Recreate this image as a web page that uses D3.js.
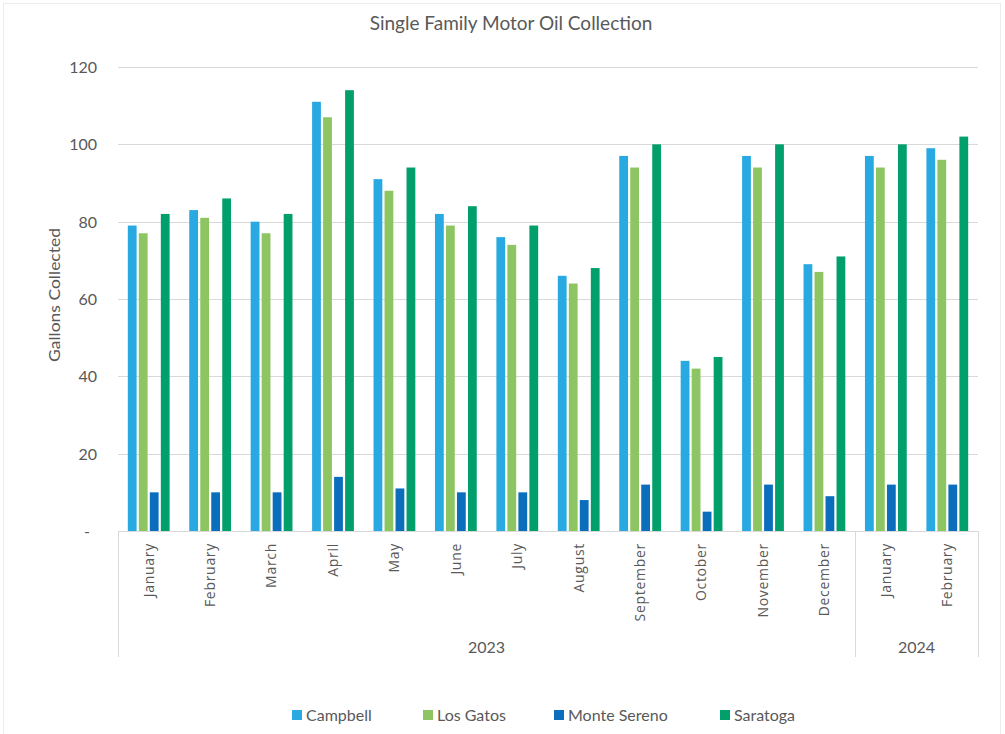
<!DOCTYPE html>
<html>
<head>
<meta charset="utf-8">
<script src="https://cdn.jsdelivr.net/npm/d3@7/dist/d3.min.js"></script>
<style>
  html, body { margin: 0; padding: 0; background: #ffffff; }
  svg { display: block; }
</style>
</head>
<body>
<svg id="chart" width="1005" height="734"></svg>
<script>
// Monthly gallons of motor oil collected from single-family homes
const months = ["January", "February", "March", "April", "May", "June", "July",
                "August", "September", "October", "November", "December",
                "January", "February"];
const monthYears = ["2023", "2023", "2023", "2023", "2023", "2023", "2023",
                    "2023", "2023", "2023", "2023", "2023", "2024", "2024"];
const years = ["2023", "2024"];

const seriesNames = ["Campbell", "Los Gatos", "Monte Sereno", "Saratoga"];
const campbell    = [79, 83, 80, 111, 91, 82, 76, 66, 97, 44, 97, 69, 97, 99];
const losGatos    = [77, 81, 77, 107, 88, 79, 74, 64, 94, 42, 94, 67, 94, 96];
const monteSereno = [10, 10, 10, 14, 11, 10, 10, 8, 12, 5, 12, 9, 12, 12];
const saratoga    = [82, 86, 82, 114, 94, 84, 79, 68, 100, 45, 100, 71, 100, 102];
const yTicks = [0, 20, 40, 60, 80, 100, 120];

const seriesValues = [campbell, losGatos, monteSereno, saratoga];
const colors = ["#29a9e1", "#8dc563", "#0a6ebd", "#009f6b"];

const textColor = "#595959";
const gridColor = "#d9d9d9";

const svg = d3.select("#chart");

// faint chart-area frame
svg.append("rect")
  .attr("x", 3.5).attr("y", 3.5)
  .attr("width", 997).attr("height", 740)
  .attr("fill", "none").attr("stroke", "#ececec");

const plotLeft = 118, plotRight = 978, plotTop = 67, plotBottom = 531;

const x = d3.scaleBand()
  .domain(d3.range(months.length))
  .range([plotLeft, plotRight])
  .paddingInner(0).paddingOuter(0);

const bw = x.bandwidth();
const xInner = d3.scaleBand()
  .domain(seriesNames)
  .range([bw / 2 - 22, bw / 2 + 22])
  .paddingInner(0.2).paddingOuter(0.1);

const y = d3.scaleLinear().domain([0, 120]).range([plotBottom, plotTop]);

// gridlines
svg.append("g")
  .selectAll("line")
  .data(yTicks.filter(t => t > 0))
  .join("line")
  .attr("x1", plotLeft).attr("x2", plotRight)
  .attr("y1", d => Math.round(y(d)) + 0.5)
  .attr("y2", d => Math.round(y(d)) + 0.5)
  .attr("stroke", gridColor).attr("stroke-width", 1);

// y axis labels (zero shown as a dash)
const yAxis = d3.axisLeft(y)
  .tickValues(yTicks)
  .tickSize(0)
  .tickPadding(0)
  .tickFormat(d => d === 0 ? "-" : d3.format("d")(d));

const yLabelX = 97;
const yg = svg.append("g")
  .attr("transform", `translate(${yLabelX},0)`)
  .call(yAxis);
yg.select(".domain").remove();
yg.selectAll("text")
  .attr("fill", textColor)
  .attr("font-family", "Lato, 'Open Sans', sans-serif")
  .attr("font-size", 16)
  .attr("dy", "0.35em");
yg.selectAll(".tick").filter(d => d === 0).select("text")
  .attr("text-anchor", "middle")
  .attr("x", -(yLabelX - 87));

// y axis title
svg.append("text")
  .attr("transform", `translate(60,295) rotate(-90)`)
  .attr("text-anchor", "middle")
  .attr("fill", textColor)
  .attr("font-family", "Lato, 'Open Sans', sans-serif")
  .attr("font-size", 15)
  .attr("textLength", 134)
  .attr("lengthAdjust", "spacingAndGlyphs")
  .text("Gallons Collected");

// bars
const groups = svg.append("g")
  .selectAll("g")
  .data(months.map((m, i) => i))
  .join("g")
  .attr("transform", i => `translate(${x(i)},0)`);

groups.selectAll("rect")
  .data(i => seriesNames.map((s, k) => ({ s, k, v: seriesValues[k][i] })))
  .join("rect")
  .attr("x", d => xInner(d.s))
  .attr("width", xInner.bandwidth())
  .attr("y", d => y(d.v))
  .attr("height", d => y(0) - y(d.v))
  .attr("fill", d => colors[d.k]);

// category axis baseline
svg.append("line")
  .attr("x1", plotLeft).attr("x2", plotRight)
  .attr("y1", plotBottom + 0.5).attr("y2", plotBottom + 0.5)
  .attr("stroke", gridColor);

// month labels
const xAxis = d3.axisBottom(x)
  .tickSize(0)
  .tickFormat(i => months[i]);
const xg = svg.append("g")
  .attr("transform", `translate(0,${plotBottom})`)
  .call(xAxis);
xg.select(".domain").remove();
xg.selectAll("text")
  .attr("transform", "rotate(-90)")
  .attr("text-anchor", "end")
  .attr("x", -12)
  .attr("y", 0)
  .attr("dy", "0.35em")
  .attr("fill", textColor)
  .attr("font-family", "'Open Sans', sans-serif")
  .attr("font-size", 14)
  .attr("letter-spacing", "0.7px");

// year grouping
const yearSpans = years.map(yr => {
  const idx = d3.range(months.length).filter(i => monthYears[i] === yr);
  return { yr, x0: x(idx[0]), x1: x(idx[idx.length - 1]) + bw };
});
const sepX = Array.from(new Set(yearSpans.flatMap(s => [s.x0, s.x1])));
svg.append("g")
  .selectAll("line")
  .data(sepX)
  .join("line")
  .attr("x1", d => Math.round(d) + 0.5).attr("x2", d => Math.round(d) + 0.5)
  .attr("y1", plotBottom).attr("y2", 657)
  .attr("stroke", gridColor);

svg.append("g")
  .selectAll("text")
  .data(yearSpans)
  .join("text")
  .attr("x", d => (d.x0 + d.x1) / 2)
  .attr("y", 653)
  .attr("text-anchor", "middle")
  .attr("fill", textColor)
  .attr("font-family", "Lato, 'Open Sans', sans-serif")
  .attr("font-size", 16)
  .text(d => d.yr);

// title
svg.append("text")
  .attr("x", 511).attr("y", 30)
  .attr("text-anchor", "middle")
  .attr("fill", textColor)
  .attr("font-family", "Lato, 'Open Sans', sans-serif")
  .attr("font-size", 19)
  .text("Single Family Motor Oil Collection");

// legend
const legendX = [292, 423, 554, 720];
const legend = svg.append("g")
  .selectAll("g")
  .data(seriesNames)
  .join("g")
  .attr("transform", (d, i) => `translate(${legendX[i]},715)`);
legend.append("rect")
  .attr("x", 0).attr("y", -5)
  .attr("width", 10).attr("height", 10)
  .attr("fill", (d, i) => colors[i]);
legend.append("text")
  .attr("x", 14).attr("y", 0)
  .attr("dy", "0.35em")
  .attr("fill", textColor)
  .attr("font-family", "Lato, 'Open Sans', sans-serif")
  .attr("font-size", 16)
  .text(d => d);
</script>
</body>
</html>
